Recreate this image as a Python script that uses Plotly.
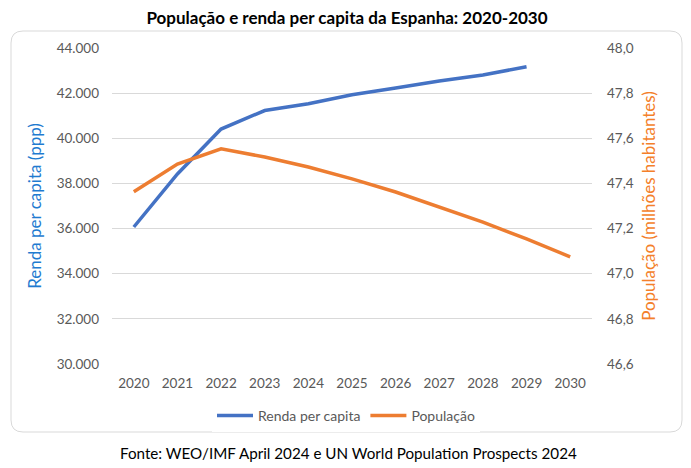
import plotly.graph_objects as go

years = [2020, 2021, 2022, 2023, 2024, 2025, 2026, 2027, 2028, 2029, 2030]
renda = [36070, 38420, 40410, 41230, 41530, 41930, 42230, 42540, 42800, 43170, None]
populacao = [47.363, 47.486, 47.553, 47.517, 47.473, 47.42, 47.362, 47.296, 47.229, 47.154, 47.075]

left_ticks = [30000, 32000, 34000, 36000, 38000, 40000, 42000, 44000]
right_ticks = [46.6, 46.8, 47.0, 47.2, 47.4, 47.6, 47.8, 48.0]

OFF = 8  # browser body margin
W, H = 691 - OFF, 468 - OFF
L, R, T, B = 112 - OFF, 592 - OFF, 48 - OFF, 364 - OFF


def px(x):
    return (x - OFF - L) / (R - L)


def py(y):
    return (B - (y - OFF)) / (B - T)


fig = go.Figure()
fig.add_trace(go.Scatter(x=years, y=renda, name="Renda per capita", mode="lines",
                         line=dict(color="#4472C4", width=3.5), yaxis="y"))
fig.add_trace(go.Scatter(x=years, y=populacao, name="População", mode="lines",
                         line=dict(color="#ED7D31", width=3.5), yaxis="y2"))

x0, x1, y0, y1 = px(11), px(682), py(432), py(31)
rx, ry = 12 / (R - L), 12 / (B - T)
path = (f"M {x0+rx},{y1} L {x1-rx},{y1} Q {x1},{y1} {x1},{y1-ry} "
        f"L {x1},{y0+ry} Q {x1},{y0} {x1-rx},{y0} L {x0+rx},{y0} "
        f"Q {x0},{y0} {x0},{y0+ry} L {x0},{y1-ry} Q {x0},{y1} {x0+rx},{y1} Z")

font = "Lato, sans-serif"

fig.update_layout(
    width=W, height=H,
    margin=dict(l=L, r=W - R, t=T, b=H - B),
    paper_bgcolor="white", plot_bgcolor="white",
    separators=",.",
    font=dict(family=font, size=13, color="#595959"),
    title=dict(text="<b>População e renda per capita da Espanha: 2020-2030</b>",
               x=px(347), xref="paper", xanchor="center", y=1 - (18 - OFF) / H, yanchor="middle",
               font=dict(size=17, color="#000000", family=font)),
    showlegend=True,
    legend=dict(orientation="h", x=px(346), xanchor="center", y=py(416), yanchor="middle",
                font=dict(size=14, color="#595959"), itemwidth=36, traceorder="normal"),
    xaxis=dict(range=[2019.5, 2030.5], tickvals=years, ticktext=[str(y) for y in years],
               showgrid=False, zeroline=False, showline=False, ticks="",
               ticklabelstandoff=9,
               tickfont=dict(size=13.5, color="#595959")),
    yaxis=dict(range=[30000, 44000], tickvals=left_ticks, tickformat=",d",
               showgrid=True, gridcolor="#D9D9D9", gridwidth=1, zeroline=False,
               showline=False, ticks="", ticklabelstandoff=12,
               tickfont=dict(size=13.5, color="#595959"),
               title=dict(text="Renda per capita (ppp)", standoff=10,
                          font=dict(size=17, color="#1F7BD0"))),
    yaxis2=dict(range=[46.6, 48.0], tickvals=right_ticks, tickformat=".1f",
                overlaying="y", side="right", showgrid=False, zeroline=False,
                showline=False, ticks="", ticklabelstandoff=14,
                tickfont=dict(size=13.5, color="#595959"),
                title=dict(text="População (milhões habitantes)", standoff=10,
                           font=dict(size=17, color="#F47F2A"))),
    shapes=[dict(type="path", path=path, xref="paper", yref="paper",
                 line=dict(color="#D9D9D9", width=1), fillcolor="rgba(0,0,0,0)", layer="below")],
    annotations=[dict(text="Fonte: WEO/IMF April 2024 e UN World Population Prospects 2024",
                      x=px(348), xref="paper", y=py(453), yref="paper",
                      xanchor="center", yanchor="middle", showarrow=False,
                      font=dict(size=15.2, color="#000000", family=font))],
)

fig.write_html("out.html")
